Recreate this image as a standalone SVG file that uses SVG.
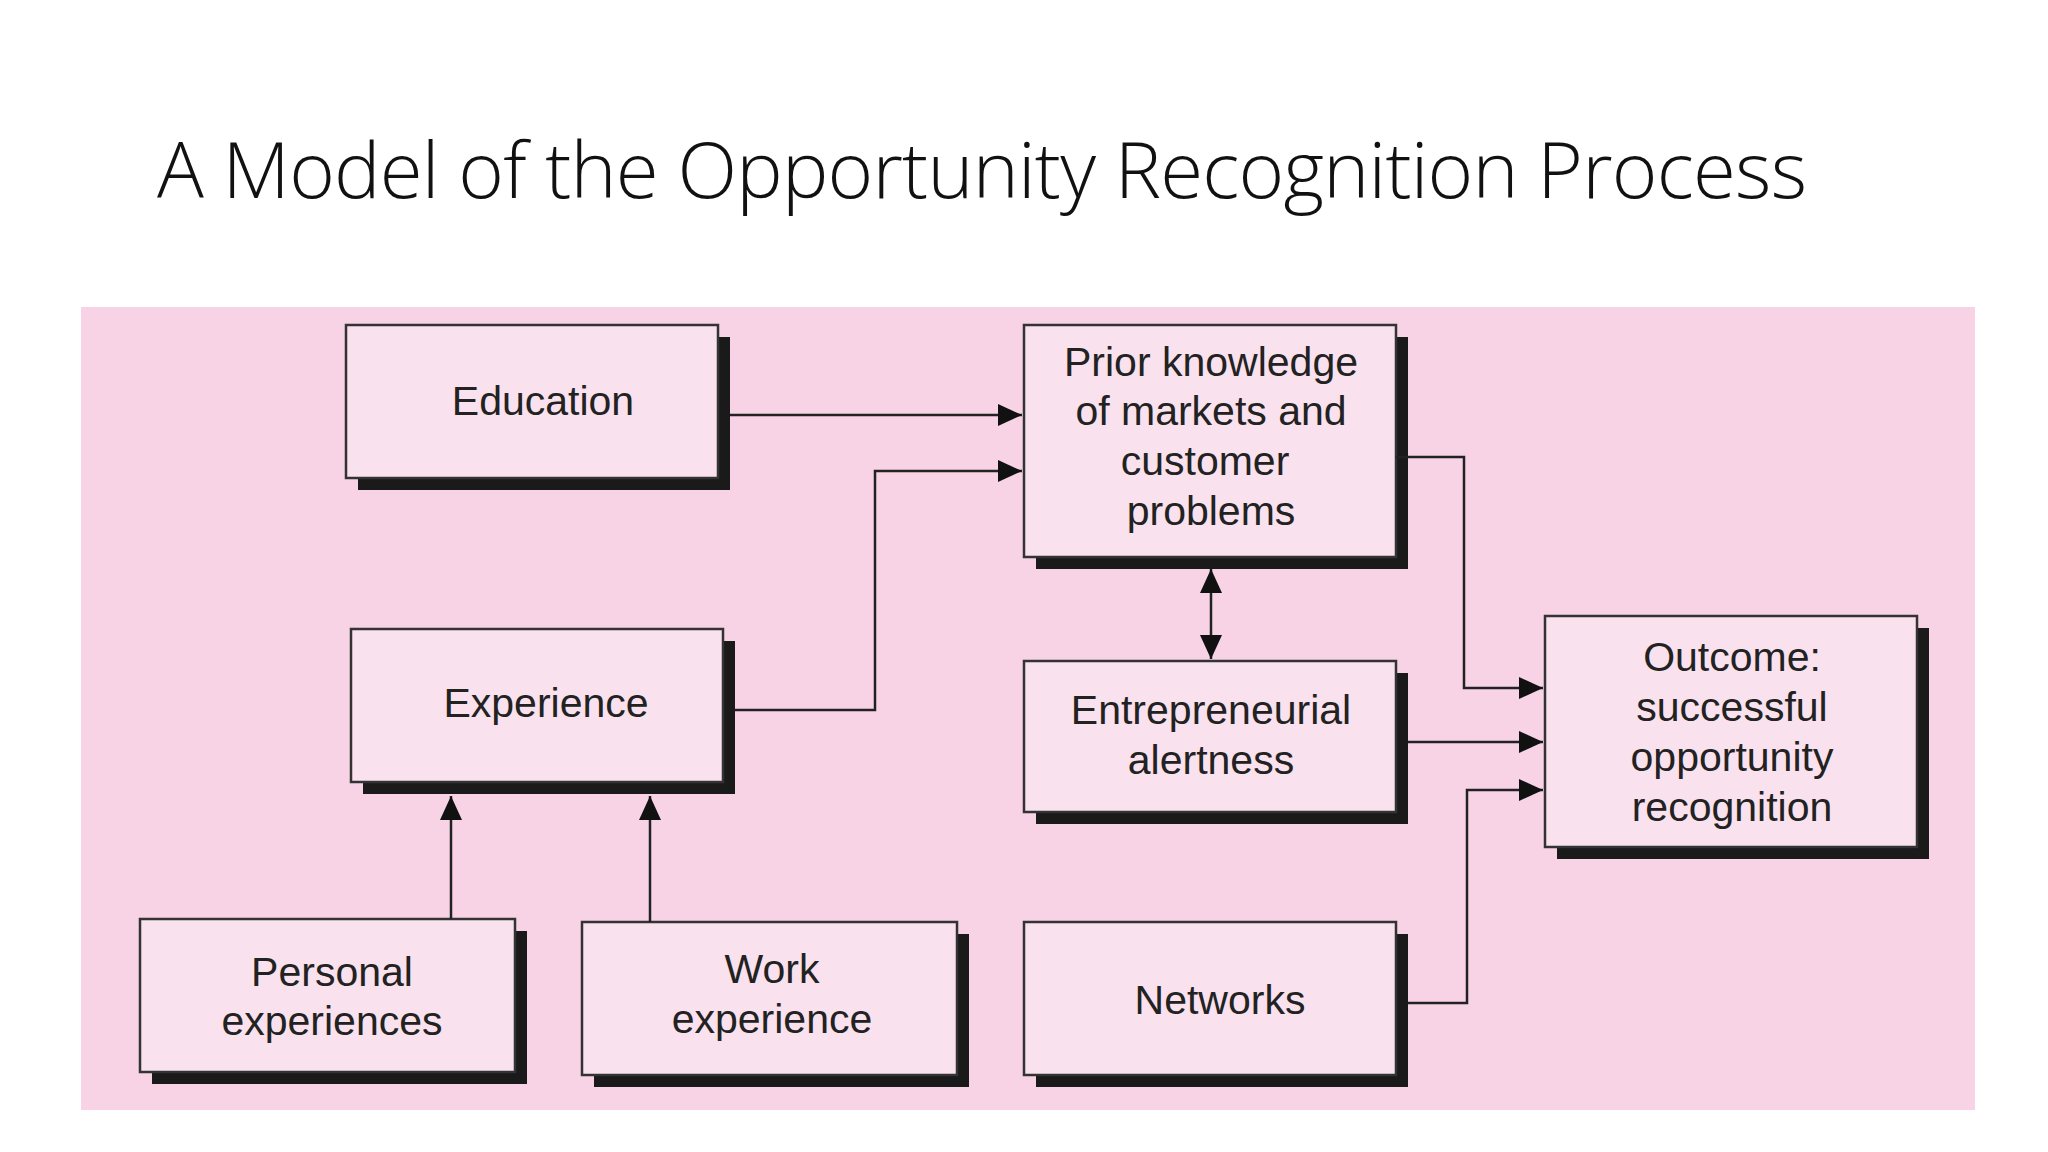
<svg xmlns="http://www.w3.org/2000/svg" width="2048" height="1152" viewBox="0 0 2048 1152">
<style>
.box{fill:#f9e1ee;stroke:#333;stroke-width:2.5}
.sh{fill:#1a1a1a}
.t{font-family:"Liberation Sans",Arial,sans-serif;font-size:41px;fill:#222;text-anchor:middle}
.c{fill:none;stroke:#222;stroke-width:2.5}
</style>
<defs>
<marker id="a" viewBox="0 0 24 22" refX="24" refY="11" markerWidth="24" markerHeight="22" orient="auto-start-reverse" markerUnits="userSpaceOnUse">
<path d="M0,0 L24,11 L0,22 z" fill="#111"/>
</marker>
</defs>
<rect width="2048" height="1152" fill="#fff"/>
<text x="157" y="198" font-family="Open Sans, sans-serif" font-weight="300" font-size="78" fill="#111" textLength="1650">A Model of the Opportunity Recognition Process</text>
<rect x="81" y="307" width="1894" height="803" fill="#f8d3e5"/>
<g id="education"><rect class="sh" x="358" y="337" width="372" height="153"/><rect class="box" x="346" y="325" width="372" height="153"/><text class="t" x="543" y="415">Education</text></g>
<g id="prior"><rect class="sh" x="1036" y="337" width="372" height="232"/><rect class="box" x="1024" y="325" width="372" height="232"/><text class="t" x="1211" y="376">Prior knowledge</text><text class="t" x="1211" y="425">of markets and</text><text class="t" x="1205" y="475">customer</text><text class="t" x="1211" y="525">problems</text></g>
<g id="experience"><rect class="sh" x="363" y="641" width="372" height="153"/><rect class="box" x="351" y="629" width="372" height="153"/><text class="t" x="546" y="717">Experience</text></g>
<g id="alertness"><rect class="sh" x="1036" y="673" width="372" height="151"/><rect class="box" x="1024" y="661" width="372" height="151"/><text class="t" x="1211" y="724">Entrepreneurial</text><text class="t" x="1211" y="774">alertness</text></g>
<g id="outcome"><rect class="sh" x="1557" y="628" width="372" height="231"/><rect class="box" x="1545" y="616" width="372" height="231"/><text class="t" x="1732" y="671">Outcome:</text><text class="t" x="1732" y="721">successful</text><text class="t" x="1732" y="771">opportunity</text><text class="t" x="1732" y="821">recognition</text></g>
<g id="personal"><rect class="sh" x="152" y="931" width="375" height="153"/><rect class="box" x="140" y="919" width="375" height="153"/><text class="t" x="332" y="986">Personal</text><text class="t" x="332" y="1035">experiences</text></g>
<g id="work"><rect class="sh" x="594" y="934" width="375" height="153"/><rect class="box" x="582" y="922" width="375" height="153"/><text class="t" x="772" y="983">Work</text><text class="t" x="772" y="1033">experience</text></g>
<g id="networks"><rect class="sh" x="1036" y="934" width="372" height="153"/><rect class="box" x="1024" y="922" width="372" height="153"/><text class="t" x="1220" y="1014">Networks</text></g>
<g id="connectors">
<path class="c" d="M730,415 H1022" marker-end="url(#a)"/>
<path class="c" d="M735,710 H875 V471 H1022" marker-end="url(#a)"/>
<path class="c" d="M1211,569 V659" marker-start="url(#a)" marker-end="url(#a)"/>
<path class="c" d="M1396,457 H1464 V688 H1543" marker-end="url(#a)"/>
<path class="c" d="M1408,742 H1543" marker-end="url(#a)"/>
<path class="c" d="M1408,1003 H1467 V790 H1543" marker-end="url(#a)"/>
<path class="c" d="M451,919 V796" marker-end="url(#a)"/>
<path class="c" d="M650,922 V796" marker-end="url(#a)"/>
</g>
</svg>
